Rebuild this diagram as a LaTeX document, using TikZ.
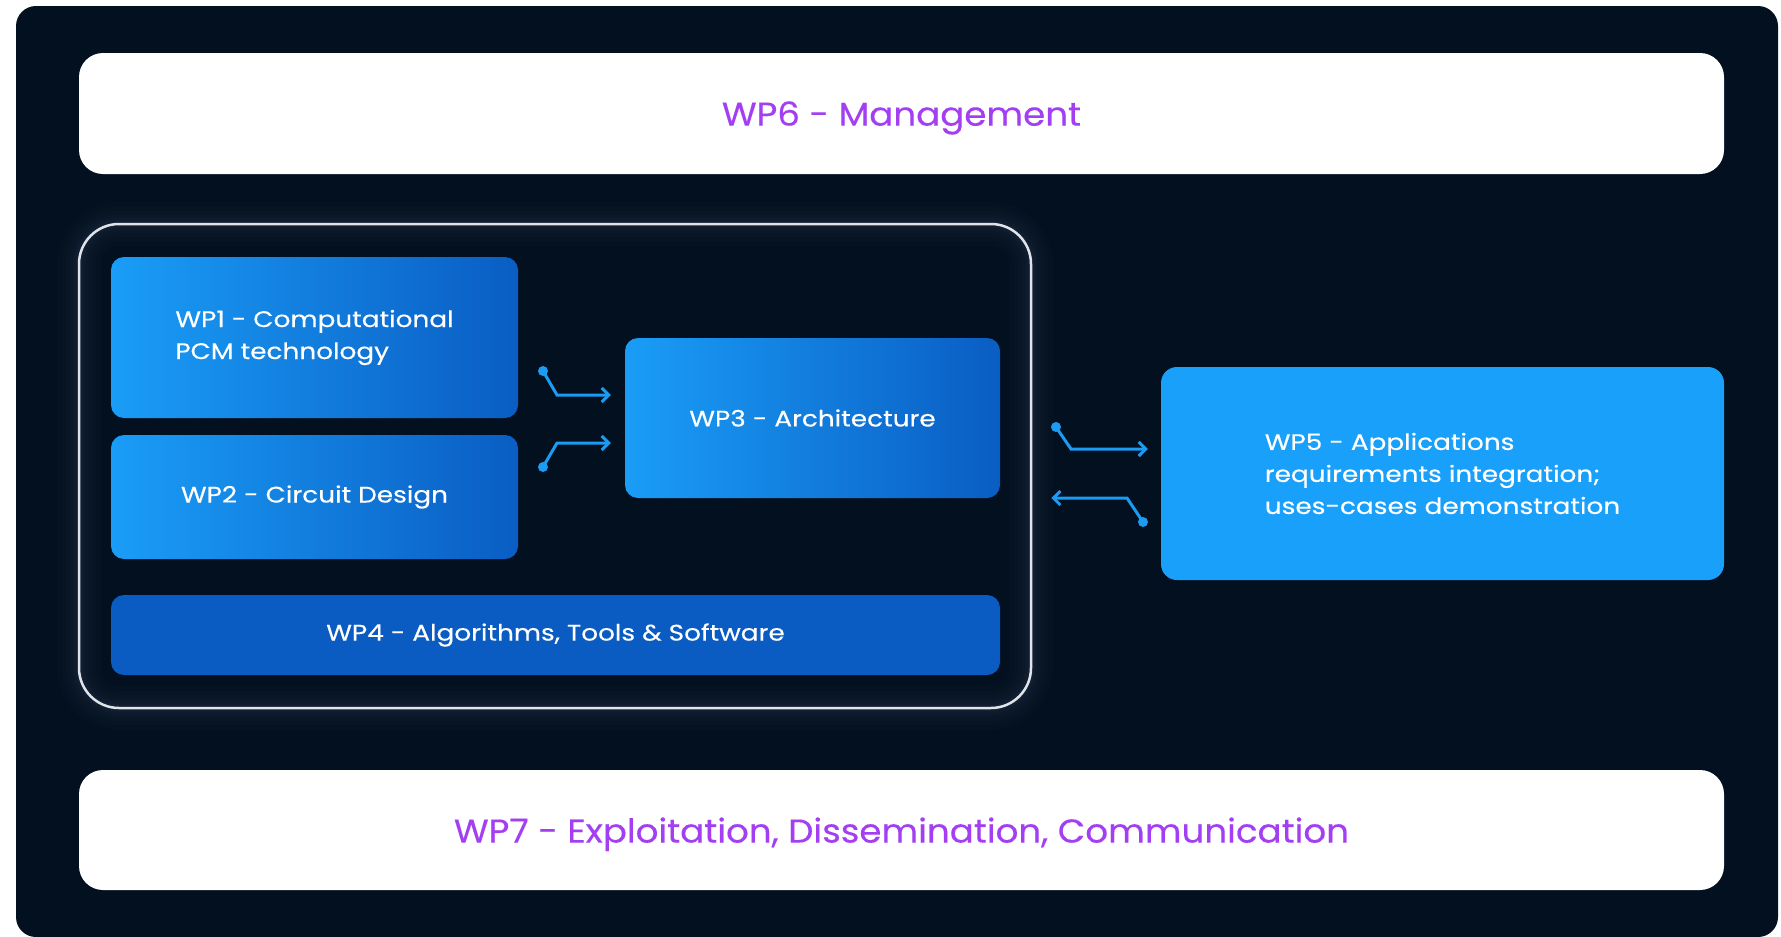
\documentclass[tikz,border=0pt]{standalone}
\usepackage{fontspec}
\setmainfont{Poppins}
\newfontfamily\outerfont[FakeStretch=1.08,FakeBold=0.3]{Poppins}
\newfontfamily\innerfont[FakeStretch=1.17,FakeBold=0.3]{Poppins}
\usetikzlibrary{arrows.meta,calc}
\definecolor{bgdark}{HTML}{03101F}
\definecolor{purp}{HTML}{A33EF3}
\definecolor{blueL}{HTML}{1A9DF7}
\definecolor{blueD}{HTML}{0A5DC3}
\definecolor{blueF}{HTML}{0A5CC2}
\definecolor{blueV}{HTML}{18A0FB}
\definecolor{arrowblue}{HTML}{1C9BF2}
\definecolor{framec}{HTML}{E0E4EA}
\definecolor{glowc}{HTML}{2A3A52}
\tikzset{
  whitebox/.style={fill=white, rounded corners=24pt, inner sep=0pt, text=purp, text depth=0pt, font=\outerfont\fontsize{33}{40}\selectfont},
  wpbox/.style={rounded corners=13pt, inner sep=0pt, text=white, align=left, font=\innerfont\fontsize{22.5}{32}\selectfont},
  gradbox/.style={wpbox, left color=blueL, right color=blueD},
  conn/.style={arrowblue, line width=3pt, -{Straight Barb[length=7pt,width=14pt,line width=3pt]}},
  dotc/.style={fill=arrowblue}
}
\begin{document}
\begin{tikzpicture}[x=1pt,y=-1pt]
\useasboundingbox (0,0) rectangle (1781,937);
\fill[white] (0,0) rectangle (1781,937);
\fill[bgdark, rounded corners=20pt] (16,6) rectangle (1778,937);

% glow around container
\foreach \w/\o in {44/0.05,34/0.06,26/0.07,18/0.08,12/0.10,7/0.13}{
  \draw[glowc, line width=\w pt, opacity=\o, rounded corners=40pt] (79,224) rectangle (1031,708);
}
\node[draw=framec, line width=2.5pt, rounded corners=40pt, minimum width=952pt, minimum height=484pt, inner sep=0pt] (container) at (555,466) {};

\node[whitebox, minimum width=1645pt, minimum height=121pt] (wp6) at (901.5,113.5) {WP6 - Management};
\node[whitebox, minimum width=1645pt, minimum height=120pt] (wp7) at (901.5,830) {WP7 - Exploitation, Dissemination, Communication};

\node[gradbox, minimum width=407pt, minimum height=161pt] (wp1) at (314.5,337.5) {WP1 - Computational\\PCM technology};
\node[gradbox, minimum width=407pt, minimum height=124pt] (wp2) at (314.5,497) {WP2 - Circuit Design};
\node[gradbox, minimum width=375pt, minimum height=160pt] (wp3) at (812.5,418) {WP3 - Architecture};
\node[wpbox, fill=blueF, minimum width=889pt, minimum height=80pt] (wp4) at (555.5,635) {WP4 - Algorithms, Tools \& Software};
\node[wpbox, fill=blueV, rounded corners=16pt, minimum width=563pt, minimum height=213pt] (wp5) at (1442.5,473.5) {WP5 - Applications\\requirements integration;\\uses-cases demonstration};

% connectors
\coordinate (d1) at (543,371);
\coordinate (d2) at (543,467);
\coordinate (d3) at (1056,427);
\coordinate (d4) at (1143,522);
\coordinate (t1) at ([xshift=-14pt]wp3.west |- 0,395);
\coordinate (t2) at ([xshift=-14pt]wp3.west |- 0,443);
\coordinate (t3) at ([xshift=-13pt]wp5.west |- 0,449);
\coordinate (t4) at ([xshift=19pt]container.east |- 0,498);

\fill[dotc] (d1) circle (5pt);
\fill[dotc] (d2) circle (5pt);
\fill[dotc] (d3) circle (5pt);
\fill[dotc] (d4) circle (5pt);
\draw[conn] (d1) -- (557,395) -- (t1);
\draw[conn] (d2) -- (557,443) -- (t2);
\draw[conn] (d3) -- (1071,449) -- (t3);
\draw[conn] (d4) -- (1127,498) -- (t4);
\end{tikzpicture}
\end{document}
